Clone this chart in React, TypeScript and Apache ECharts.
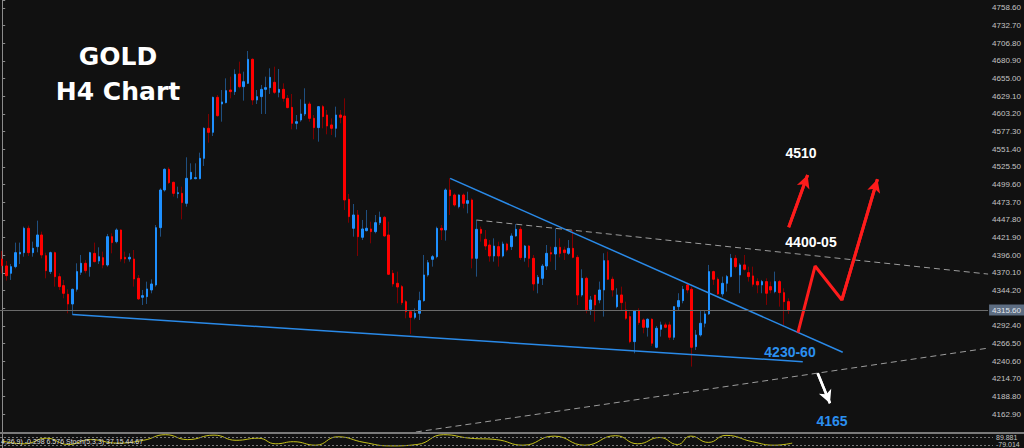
import React, { useEffect, useRef } from "react";
import * as echarts from "echarts";

// 180 H4 candles followed by empty future space
const CATEGORY_COUNT = 225;
const categories: string[] = Array.from({ length: CATEGORY_COUNT }, (_, i) => String(i));

// [open, high, low, close]
const ohlc: [number, number, number, number][] = [
  [4390.5, 4402.2, 4369.5, 4380.8], [4380.3, 4387.6, 4358.8, 4366.1], [4369.5, 4383.2, 4359.8, 4379.3],
  [4379.3, 4414.5, 4376.9, 4399.8], [4397.9, 4414.5, 4383.2, 4400.3], [4399.8, 4437.9, 4393.9, 4435.5],
  [4435.5, 4439.4, 4394.9, 4399.8], [4399.8, 4415.9, 4393.9, 4406.2], [4408.6, 4446.7, 4400.3, 4425.7],
  [4425.7, 4430.6, 4391.5, 4396.4], [4395.4, 4399.8, 4362.2, 4373.4], [4372.0, 4401.3, 4368.5, 4399.8],
  [4399.8, 4401.3, 4350.0, 4364.6], [4364.6, 4369.5, 4345.1, 4350.0], [4351.5, 4359.8, 4332.9, 4340.2],
  [4338.8, 4346.1, 4310.9, 4324.6], [4324.6, 4347.1, 4308.5, 4346.1], [4346.1, 4384.2, 4342.7, 4372.0],
  [4371.0, 4396.4, 4367.1, 4384.2], [4384.2, 4389.1, 4369.5, 4373.4], [4379.3, 4401.0, 4364.6, 4399.8],
  [4398.8, 4414.5, 4385.6, 4386.6], [4387.6, 4407.6, 4383.2, 4393.9], [4392.5, 4401.3, 4376.9, 4381.7],
  [4381.7, 4427.2, 4379.3, 4423.2], [4423.2, 4428.1, 4398.8, 4414.5], [4415.9, 4435.5, 4413.5, 4433.0],
  [4433.0, 4434.0, 4386.6, 4390.5], [4393.0, 4401.3, 4384.2, 4390.5], [4390.5, 4398.8, 4386.6, 4393.0],
  [4390.5, 4403.7, 4350.0, 4361.2], [4362.2, 4367.1, 4330.5, 4332.0], [4334.4, 4345.1, 4323.1, 4336.8],
  [4335.3, 4357.3, 4324.6, 4346.6], [4345.1, 4360.7, 4340.2, 4353.9], [4352.4, 4440.3, 4350.0, 4436.4],
  [4436.4, 4494.1, 4423.2, 4491.6], [4491.6, 4523.4, 4489.2, 4521.9], [4521.9, 4524.8, 4500.4, 4502.4],
  [4502.9, 4503.8, 4481.9, 4486.7], [4486.3, 4496.5, 4479.5, 4487.7], [4486.7, 4496.5, 4448.6, 4473.1],
  [4472.1, 4539.5, 4467.2, 4508.7], [4507.7, 4530.7, 4506.3, 4517.5], [4508.2, 4530.7, 4507.3, 4509.7],
  [4508.2, 4546.3, 4507.3, 4538.0], [4538.0, 4583.4, 4526.8, 4582.0], [4582.0, 4603.0, 4561.0, 4576.1],
  [4576.1, 4628.4, 4570.7, 4627.4], [4627.4, 4630.8, 4599.1, 4600.5], [4617.6, 4638.1, 4591.7, 4620.6],
  [4619.6, 4655.2, 4618.6, 4637.2], [4638.1, 4657.7, 4625.9, 4635.7], [4635.7, 4668.4, 4630.8, 4661.1],
  [4661.6, 4679.7, 4640.6, 4643.0], [4643.0, 4665.0, 4622.5, 4650.3], [4647.9, 4695.3, 4646.9, 4683.1],
  [4683.1, 4684.5, 4616.2, 4623.5], [4623.5, 4638.1, 4617.6, 4628.4], [4628.4, 4645.5, 4603.0, 4639.1],
  [4639.1, 4657.7, 4603.0, 4641.6], [4641.6, 4669.9, 4632.3, 4656.7], [4649.4, 4672.3, 4632.3, 4634.7],
  [4634.7, 4668.9, 4627.4, 4639.1], [4639.1, 4647.9, 4621.0, 4625.9], [4625.9, 4630.8, 4611.3, 4612.3],
  [4612.7, 4632.3, 4580.5, 4589.3], [4589.3, 4601.5, 4580.5, 4591.7], [4594.2, 4624.5, 4591.7, 4603.0],
  [4603.0, 4640.6, 4600.0, 4617.6], [4617.6, 4621.0, 4591.7, 4596.6], [4596.6, 4601.5, 4565.9, 4583.0],
  [4583.0, 4614.7, 4562.4, 4613.7], [4613.7, 4616.2, 4582.0, 4599.1], [4601.5, 4608.8, 4573.2, 4585.4],
  [4586.9, 4596.6, 4572.2, 4582.0], [4582.0, 4613.7, 4568.8, 4601.5], [4601.5, 4608.8, 4589.3, 4598.1],
  [4600.0, 4625.9, 4462.3, 4477.0], [4478.0, 4485.8, 4443.7, 4452.6], [4435.5, 4471.1, 4423.2, 4455.0],
  [4455.0, 4462.3, 4394.9, 4423.2], [4422.3, 4447.7, 4418.4, 4434.5], [4432.0, 4462.3, 4431.0, 4435.5],
  [4434.5, 4445.2, 4413.5, 4430.6], [4430.6, 4455.0, 4428.1, 4443.7], [4443.7, 4459.9, 4440.3, 4451.6],
  [4451.6, 4453.5, 4423.2, 4424.2], [4425.7, 4445.2, 4367.1, 4368.1], [4369.5, 4374.4, 4350.0, 4353.9],
  [4354.9, 4372.0, 4325.6, 4349.5], [4350.0, 4352.4, 4323.1, 4326.5], [4328.0, 4330.4, 4303.6, 4313.3],
  [4313.3, 4315.8, 4280.6, 4305.0], [4305.0, 4318.2, 4302.1, 4310.9], [4310.9, 4342.6, 4301.1, 4329.5],
  [4329.5, 4396.4, 4328.0, 4367.1], [4367.1, 4389.0, 4364.6, 4385.1], [4390.0, 4396.4, 4379.3, 4393.9],
  [4393.9, 4437.9, 4391.5, 4435.4], [4435.4, 4440.3, 4418.3, 4433.0], [4433.0, 4494.0, 4417.4, 4491.6],
  [4491.6, 4508.7, 4455.0, 4483.3], [4484.3, 4486.7, 4467.2, 4469.6], [4467.2, 4485.2, 4464.7, 4484.3],
  [4484.3, 4486.7, 4464.7, 4472.1], [4472.1, 4489.1, 4457.4, 4476.0], [4477.0, 4479.4, 4376.8, 4391.5],
  [4391.5, 4447.6, 4364.6, 4434.0], [4434.0, 4437.9, 4415.9, 4428.1], [4419.3, 4433.0, 4403.7, 4409.5],
  [4411.0, 4418.3, 4386.6, 4394.9], [4394.9, 4420.8, 4386.6, 4409.5], [4408.6, 4415.9, 4379.3, 4394.9],
  [4394.9, 4415.9, 4392.9, 4412.5], [4412.5, 4414.4, 4401.2, 4403.7], [4408.6, 4428.1, 4403.7, 4424.2],
  [4424.2, 4441.8, 4423.2, 4434.0], [4434.0, 4437.9, 4389.0, 4392.5], [4392.5, 4411.0, 4386.6, 4409.5],
  [4409.5, 4411.0, 4378.3, 4391.5], [4391.5, 4396.4, 4344.1, 4353.9], [4354.8, 4367.1, 4340.2, 4363.6],
  [4362.2, 4383.2, 4352.4, 4380.2], [4380.2, 4411.0, 4374.4, 4398.8], [4399.8, 4408.6, 4386.6, 4397.8],
  [4397.8, 4435.4, 4374.4, 4407.6], [4407.6, 4420.8, 4392.9, 4398.8], [4403.7, 4408.6, 4389.0, 4399.8],
  [4398.8, 4418.3, 4396.4, 4406.1], [4406.1, 4433.0, 4391.5, 4392.9], [4392.9, 4396.4, 4323.1, 4337.7],
  [4337.7, 4375.4, 4335.3, 4362.2], [4362.2, 4364.6, 4310.9, 4315.8], [4316.7, 4336.3, 4308.5, 4330.4],
  [4337.7, 4337.7, 4298.7, 4323.1], [4330.5, 4357.4, 4325.6, 4345.1], [4345.1, 4398.9, 4306.1, 4388.1],
  [4388.1, 4401.3, 4359.8, 4360.8], [4360.8, 4364.7, 4335.4, 4345.1], [4320.7, 4347.6, 4318.3, 4337.8],
  [4337.8, 4350.0, 4315.8, 4326.6], [4315.8, 4328.0, 4301.2, 4303.6], [4306.1, 4313.4, 4267.0, 4269.4],
  [4269.4, 4315.8, 4252.3, 4314.9], [4314.9, 4318.3, 4293.9, 4297.3], [4301.2, 4303.6, 4281.6, 4290.4],
  [4290.4, 4303.6, 4276.8, 4302.2], [4302.2, 4303.6, 4263.1, 4267.0], [4261.1, 4292.4, 4259.7, 4289.0],
  [4287.5, 4298.7, 4276.8, 4293.9], [4293.9, 4297.3, 4289.0, 4290.4], [4293.9, 4298.7, 4271.9, 4275.8],
  [4275.8, 4320.7, 4271.9, 4320.7], [4320.7, 4340.3, 4315.8, 4329.5], [4329.5, 4351.0, 4325.6, 4346.1],
  [4352.5, 4355.9, 4340.3, 4345.1], [4346.1, 4350.0, 4232.8, 4261.1], [4262.1, 4286.5, 4257.2, 4279.2],
  [4279.2, 4315.8, 4276.8, 4296.3], [4296.3, 4315.8, 4290.4, 4310.0], [4310.0, 4381.8, 4308.5, 4372.0],
  [4372.0, 4373.5, 4352.5, 4360.8], [4360.8, 4363.7, 4337.8, 4339.3], [4339.3, 4364.7, 4335.4, 4354.9],
  [4354.9, 4367.1, 4342.7, 4364.7], [4364.7, 4397.9, 4363.7, 4391.5], [4391.5, 4396.4, 4376.9, 4379.3],
  [4367.1, 4384.2, 4340.3, 4381.8], [4381.8, 4396.4, 4373.5, 4375.4], [4370.5, 4379.3, 4357.4, 4364.7],
  [4365.7, 4379.3, 4350.0, 4353.4], [4357.4, 4362.2, 4340.3, 4352.5], [4352.5, 4359.8, 4340.3, 4357.4],
  [4357.4, 4362.2, 4323.2, 4340.3], [4350.0, 4357.4, 4340.3, 4345.1], [4342.7, 4372.0, 4340.3, 4357.4],
  [4357.4, 4359.8, 4320.7, 4341.2], [4341.2, 4347.6, 4293.9, 4328.0], [4328.0, 4332.9, 4310.0, 4315.6],
];

// price axis
const PRICE_MIN = 4137.0;
const PRICE_MAX = 4770.0;
const PRICE_STEP = 25.9;
const BID_PRICE = 4315.6;

// drawn analysis objects, as [candle index, price]
const supportLine = [[16, 4309.0], [182.3, 4240.0]];
const resistanceLine = [[102, 4508.7], [191.4, 4253.8]];
const upperChannel = [[108, 4447.6], [224.5, 4368.4]];
const lowerChannel = [[94.2, 4137.0], [224.5, 4259.9]];
const arrowTo4510 = [[179.1, 4436.9], [183.4, 4513.6]];
const zigzagArrow = [[181.2, 4282.5], [185.1, 4380.2], [191.2, 4330.4], [199.3, 4507.3]];
const arrowTo4165 = [[185.7, 4223.0], [188.5, 4179.1]];

// oscillator sub-window (index, value 0..100)
const oscIndex = [0, 5, 10, 15, 20, 26, 32, 37, 42, 48, 53, 58, 62, 66, 71, 76, 82, 88, 94, 100, 106, 112, 118, 125, 132, 139, 144, 149, 153, 156, 160, 164, 170, 175, 179];
const oscValue = [50, 30, 70, 25, 60, 35, 55, 95, 60, 92, 55, 70, 30, 45, 20, 80, 40, 15, 25, 95, 70, 60, 20, 85, 20, 88, 30, 75, 25, 85, 40, 90, 45, 20, 35];

const BLUE = "#1e90ff";
const RED = "#ff0000";

function arrowSeries(name: string, pts: number[][], color: string, width: number) {
  const n = pts.length;
  return {
    name,
    type: "line",
    xAxisIndex: 1,
    yAxisIndex: 0,
    data: pts,
    showSymbol: false,
    symbol: "none",
    silent: true,
    z: 6,
    lineStyle: { color, width },
    markLine: {
      silent: true,
      symbol: ["none", "arrow"],
      symbolSize: [10, 13],
      label: { show: false },
      lineStyle: { color, width, type: "solid" },
      data: [[{ coord: pts[n - 2] }, { coord: pts[n - 1] }]],
    },
  };
}

function lineSeries(name: string, pts: number[][], color: string, width: number, dashed: boolean) {
  return {
    name,
    type: "line",
    xAxisIndex: 1,
    yAxisIndex: 0,
    data: pts,
    showSymbol: false,
    symbol: "none",
    silent: true,
    z: 4,
    lineStyle: { color, width, type: dashed ? [6, 4] : "solid" },
  };
}

export default function App() {
  const ref = useRef<HTMLDivElement>(null);

  useEffect(() => {
    document.body.style.margin = "0";
    document.body.style.background = "#111111";
    const chart = echarts.init(ref.current!, undefined, { renderer: "svg" });

    const wickData = ohlc.map(([o, h, l, c]) => [o, c, l, h]);
    const bodyData = ohlc.map(([o, , , c]) => [o, c, Math.min(o, c), Math.max(o, c)]);

    const labelFormatter = (v: number) => {
      if (v < PRICE_MIN + 5 || v > PRICE_MAX - 5) return "";
      if (Math.abs(v - BID_PRICE) < 6) return "";
      return v.toFixed(2);
    };

    const titleFont = 'bold 25px "DejaVu Sans"';
    const noteFont = 'bold 14px "Liberation Sans"';

    chart.setOption({
      animation: false,
      backgroundColor: "#111111",
      grid: [
        { left: 0, right: 31, top: 0, bottom: 16 },
        { left: 0, right: 31, top: 434, height: 14 },
      ],
      xAxis: [
        {
          type: "category",
          gridIndex: 0,
          data: categories,
          boundaryGap: true,
          axisLine: { show: false },
          axisTick: { show: false },
          axisLabel: { show: false },
          splitLine: { show: false },
        },
        { type: "value", gridIndex: 0, min: -0.5, max: CATEGORY_COUNT - 0.5, show: false },
        { type: "value", gridIndex: 1, min: -0.5, max: CATEGORY_COUNT - 0.5, show: false },
      ],
      yAxis: [
        {
          type: "value",
          gridIndex: 0,
          position: "right",
          min: PRICE_MIN,
          max: PRICE_MAX,
          interval: PRICE_STEP,
          axisLine: { show: true, lineStyle: { color: "#8c8c8c", width: 1 } },
          axisTick: { show: true, length: 3, lineStyle: { color: "#8c8c8c" } },
          axisLabel: {
            color: "#c4c4c4",
            fontSize: 8,
            fontFamily: "Liberation Sans",
            margin: 4,
            formatter: labelFormatter,
          },
          splitLine: { show: false },
        },
        {
          type: "value",
          gridIndex: 1,
          position: "right",
          min: 0,
          max: 100,
          axisLine: { show: true, lineStyle: { color: "#8c8c8c", width: 1 } },
          axisTick: { show: false },
          axisLabel: { show: false },
          splitLine: { show: false },
        },
      ],
      series: [
        {
          name: "wicks",
          type: "candlestick",
          xAxisIndex: 0,
          yAxisIndex: 0,
          data: wickData,
          barWidth: 1,
          silent: true,
          z: 2,
          itemStyle: {
            color: "#1f4f80",
            color0: "#7d0000",
            borderColor: "#1f4f80",
            borderColor0: "#7d0000",
            borderWidth: 1,
          },
        },
        {
          name: "bodies",
          type: "candlestick",
          xAxisIndex: 0,
          yAxisIndex: 0,
          data: bodyData,
          barWidth: 2,
          silent: true,
          z: 3,
          itemStyle: {
            color: BLUE,
            color0: RED,
            borderColor: BLUE,
            borderColor0: RED,
            borderWidth: 1,
          },
          markLine: {
            silent: true,
            symbol: ["none", "none"],
            z: 10,
            lineStyle: { color: "#6a6a6a", width: 1, type: "solid" },
            label: {
              show: true,
              position: "end",
              distance: 1,
              formatter: BID_PRICE.toFixed(2),
              backgroundColor: "#5d6d82",
              color: "#e2e7ee",
              fontSize: 8,
              fontFamily: "Liberation Sans",
              padding: [2, 3, 1, 3],
            },
            data: [{ yAxis: BID_PRICE }],
          },
        },
        lineSeries("support", supportLine, "#2a8ae8", 1.5, false),
        lineSeries("resistance", resistanceLine, "#2a8ae8", 1.5, false),
        lineSeries("upper channel", upperChannel, "#9c9c9c", 1, true),
        lineSeries("lower channel", lowerChannel, "#9c9c9c", 1, true),
        arrowSeries("to 4510", arrowTo4510, "#ff1c1c", 3),
        arrowSeries("zigzag", zigzagArrow, "#ff1c1c", 3),
        arrowSeries("to 4165", arrowTo4165, "#ffffff", 2.5),
        {
          name: "oscillator",
          type: "line",
          xAxisIndex: 2,
          yAxisIndex: 1,
          data: oscIndex.map((x, i) => [x, oscValue[i]]),
          showSymbol: false,
          symbol: "none",
          smooth: true,
          silent: true,
          lineStyle: { color: "#c8c31c", width: 1 },
          markLine: {
            silent: true,
            symbol: ["none", "none"],
            label: { show: false },
            lineStyle: { color: "#777777", width: 1, type: [2, 2] },
            data: [{ yAxis: 80 }, { yAxis: 20 }],
          },
        },
      ],
      graphic: [
        { type: "line", silent: true, z: 20, shape: { x1: 0, y1: 433, x2: 1024, y2: 433 }, style: { stroke: "#7a7a7a", lineWidth: 2 } },
        { type: "text", silent: true, z: 30, x: 118, y: 56, style: { text: "GOLD", font: titleFont, fill: "#ffffff", align: "center", verticalAlign: "middle", textAlign: "center", textVerticalAlign: "middle", shadowColor: "#1a3550", shadowBlur: 2 } },
        { type: "text", silent: true, z: 30, x: 118, y: 91, style: { text: "H4 Chart", font: titleFont, fill: "#ffffff", align: "center", verticalAlign: "middle", textAlign: "center", textVerticalAlign: "middle", shadowColor: "#1a3550", shadowBlur: 2 } },
        { type: "text", silent: true, z: 30, x: 801, y: 153, style: { text: "4510", font: noteFont, fill: "#ffffff", align: "center", verticalAlign: "middle", textAlign: "center", textVerticalAlign: "middle" } },
        { type: "text", silent: true, z: 30, x: 811, y: 242, style: { text: "4400-05", font: noteFont, fill: "#ffffff", align: "center", verticalAlign: "middle", textAlign: "center", textVerticalAlign: "middle" } },
        { type: "text", silent: true, z: 30, x: 790, y: 352, style: { text: "4230-60", font: noteFont, fill: "#2b8fef", align: "center", verticalAlign: "middle", textAlign: "center", textVerticalAlign: "middle" } },
        { type: "text", silent: true, z: 30, x: 832, y: 421, style: { text: "4165", font: noteFont, fill: "#2b8fef", align: "center", verticalAlign: "middle", textAlign: "center", textVerticalAlign: "middle" } },
        { type: "text", silent: true, z: 30, x: 1, y: 441, style: { text: "4,26,9) -0.298 6.576 Stoch(5,3,3) 37.15 44.67", font: '7px "Liberation Sans"', fill: "#dcdcdc", align: "left", verticalAlign: "middle", textAlign: "left", textVerticalAlign: "middle" } },
        { type: "text", silent: true, z: 30, x: 996, y: 437, style: { text: "89.881", font: '7px "Liberation Sans"', fill: "#c4c4c4", align: "left", verticalAlign: "middle", textAlign: "left", textVerticalAlign: "middle" } },
        { type: "text", silent: true, z: 30, x: 996, y: 444, style: { text: "-79.014", font: '7px "Liberation Sans"', fill: "#c4c4c4", align: "left", verticalAlign: "middle", textAlign: "left", textVerticalAlign: "middle" } },
      ],
    });

    return () => chart.dispose();
  }, []);

  return (
    <div
      ref={ref}
      style={{ position: "fixed", left: 0, top: 0, width: 1024, height: 448, background: "#111111" }}
    />
  );
}
